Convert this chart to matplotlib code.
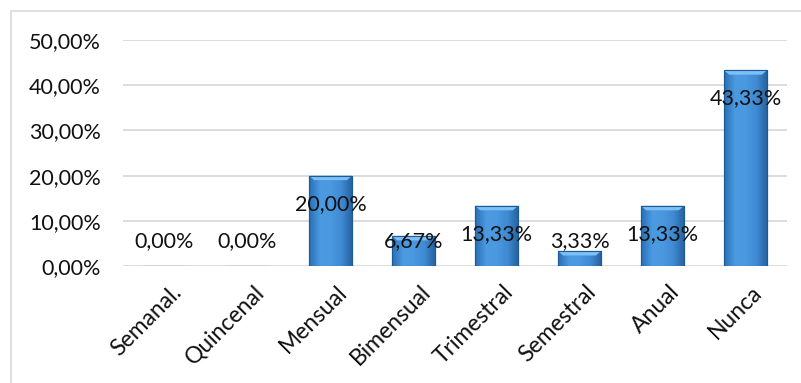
import numpy as np
import matplotlib
matplotlib.use("Agg")
from matplotlib import pyplot as plt
from matplotlib.patches import Rectangle, Polygon
from matplotlib.ticker import FuncFormatter
from matplotlib.transforms import ScaledTranslation

categories = ["Semanal.", "Quincenal", "Mensual", "Bimensual", "Trimestral",
              "Semestral", "Anual", "Nunca"]
values = [0.0, 0.0, 20.00, 6.67, 13.33, 3.33, 13.33, 43.33]
yticks = [0, 10, 20, 30, 40, 50]

plt.rcParams['font.family'] = ['Lato', 'DejaVu Sans']

fig = plt.figure(figsize=(8.01, 3.83), dpi=100)
fig.patches.append(Rectangle((11 / 801, -0.1), 1.0, 1 - 11 / 383 + 0.1,
                             transform=fig.transFigure, fill=False,
                             edgecolor='#d9d9d9', linewidth=1.2))
ax = fig.add_axes([123 / 801, 1 - 266 / 383, (787 - 123) / 801, (266 - 40) / 383])

x = np.arange(len(categories))
bars = ax.bar(x, values, width=0.52, color='#3a86d2', edgecolor='#1d5a96',
              linewidth=0.8, zorder=3)

# horizontal gradient inside each bar to mimic the bevel look
grad = np.linspace(0, 1, 64).reshape(1, -1)
cmap = matplotlib.colors.LinearSegmentedColormap.from_list(
    'bev', ['#2a6fb3', '#4b9ae2', '#4a98e0', '#3f8ad2', '#25609e'])
for b, v in zip(bars, values):
    if v <= 0:
        continue
    x0, w = b.get_x(), b.get_width()
    im = ax.imshow(grad, aspect='auto', cmap=cmap, zorder=3.5,
                   extent=[x0, x0 + w, 0, v], interpolation='bicubic')
    im.set_clip_path(b)
    cap = min(1.0, v * 0.3)
    ax.add_patch(Polygon([(x0, v), (x0 + w, v), (x0 + w * 0.88, v - cap),
                          (x0 + w * 0.12, v - cap)], closed=True,
                         facecolor='#7cc0f5', edgecolor='none', zorder=4))
    ax.add_patch(Rectangle((x0, 0), w, v, fill=False, edgecolor='#1d5a96',
                           linewidth=0.8, zorder=4.5))

for xi, v in zip(x, values):
    ly = max(v - 6.2, 5.5)
    ax.text(xi, ly, f"{v:.2f}%".replace('.', ','), ha='center', va='center',
            fontsize=15.5, color='#111111', zorder=6)

ax.set_xlim(-0.5, len(categories) - 0.5)
ax.set_ylim(0, 50)
ax.set_yticks(yticks)
ax.yaxis.set_major_formatter(FuncFormatter(lambda v, p: f"{v:.2f}%".replace('.', ',')))
ax.grid(axis='y', color='#d9d9d9', linewidth=1.3, zorder=0)
for s in ax.spines.values():
    s.set_visible(False)
ax.tick_params(axis='y', length=0, pad=16, labelsize=15.5, labelcolor='#111111')
ax.tick_params(axis='x', length=0, pad=11, labelsize=16.5, labelcolor='#111111')
ax.set_xticks(x)
ax.set_xticklabels(categories, rotation=45, ha='right', rotation_mode='anchor')
shift = ScaledTranslation(6 / 100, 0, fig.dpi_scale_trans)
for lbl in ax.get_xticklabels():
    lbl.set_transform(lbl.get_transform() + shift)

fig.savefig('out.png', dpi=100)
